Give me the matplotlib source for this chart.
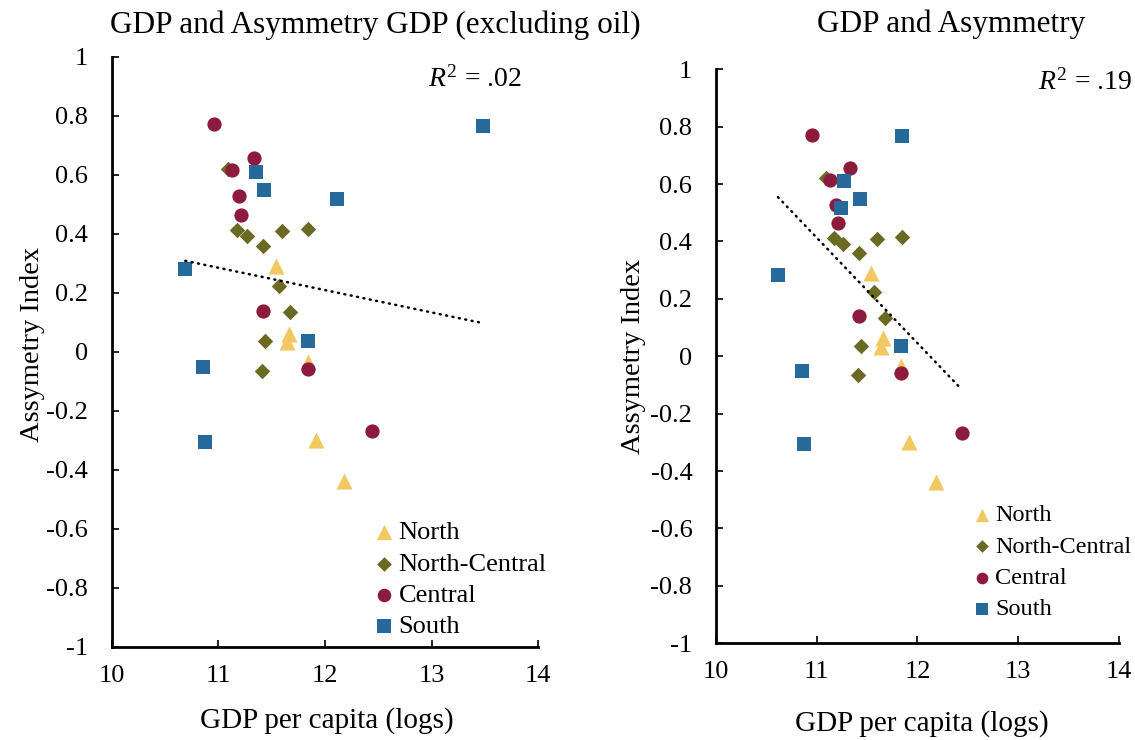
import numpy as np
import matplotlib
matplotlib.use('Agg')
import matplotlib.pyplot as plt

plt.rcParams['font.family'] = ['Liberation Serif', 'DejaVu Serif']
plt.rcParams['mathtext.fontset'] = 'custom'
plt.rcParams['mathtext.rm'] = 'Liberation Serif'
plt.rcParams['mathtext.it'] = 'Liberation Serif:italic'

# ---- data ----
regions = ['North', 'North-Central', 'Central', 'South']

north_x = [11.54, 11.66, 11.64, 11.84, 11.92, 12.18]
north_y = [0.29, 0.062, 0.033, -0.033, -0.30, -0.438]

ncentral_x = [11.09, 11.175, 11.265, 11.42, 11.60, 11.845, 11.57, 11.675, 11.44, 11.41]
ncentral_y = [0.621, 0.413, 0.392, 0.360, 0.409, 0.415, 0.223, 0.134, 0.036, -0.066]

central_x = [10.956, 11.33, 11.13, 11.19, 11.21, 11.42, 11.84, 12.44]
central_y = [0.771, 0.656, 0.615, 0.527, 0.463, 0.139, -0.058, -0.268]

# GDP excluding oil (left) vs total GDP (right) for the southern states
south_x_nooil = [13.48, 11.35, 11.43, 12.11, 10.69, 11.84, 10.855, 10.875]
south_x_total = [11.85, 11.27, 11.43, 11.24, 10.615, 11.84, 10.855, 10.875]
south_y = [0.766, 0.609, 0.547, 0.518, 0.282, 0.036, -0.050, -0.305]

titles = ['GDP and Asymmetry GDP (excluding oil)', 'GDP and Asymmetry']
xticks = [10, 11, 12, 13, 14]
yticks = [-1, -0.8, -0.6, -0.4, -0.2, 0, 0.2, 0.4, 0.6, 0.8, 1]
ytick_labels = ['-1', '-0.8', '-0.6', '-0.4', '-0.2', '0', '0.2', '0.4', '0.6', '0.8', '1']

colors = ['#F2C862', '#6B6A22', '#8C1B3D', '#26699B']
markers = ['^', 'D', 'o', 's']
sizes = [135, 62, 105, 110]

fig = plt.figure(figsize=(11.35, 7.4), dpi=100)
ax1 = fig.add_axes([0.0984, 0.1257, 0.3759, 0.7977])
ax2 = fig.add_axes([0.6308, 0.1307, 0.3551, 0.7757])

# axes, south x values, legend anchor x/y, marker scale, legend font, spacing
panels = [(ax1, south_x_nooil, 0.614, 0.214, 0.95, 19, 0.3),
          (ax2, south_x_total, 0.636, 0.242, 0.82, 17.5, 0.38)]

for ax, south_x, lx, ly, mscale, lfs, lsp in panels:
    xs = [north_x, ncentral_x, central_x, south_x]
    ys = [north_y, ncentral_y, central_y, south_y]
    for i in range(len(regions)):
        ax.scatter(xs[i], ys[i], marker=markers[i], s=sizes[i], color=colors[i],
                   linewidths=0, label=regions[i], zorder=3 + i)

    # linear trend over all points
    allx = np.concatenate([np.array(v) for v in xs])
    ally = np.concatenate([np.array(v) for v in ys])
    b, a = np.polyfit(allx, ally, 1)
    xx = np.array([allx.min(), allx.max()])
    ax.plot(xx, a + b * xx, color='black', lw=1.8, linestyle=(0, (0.4, 2.2)),
            dash_capstyle='round', zorder=10)

    ax.set_xlim(10, 14)
    ax.set_ylim(-1, 1)
    ax.set_xticks(xticks)
    ax.set_xticklabels([str(t) for t in xticks])
    ax.set_yticks(yticks)
    ax.set_yticklabels(ytick_labels)
    ax.tick_params(direction='in', length=5, width=1.2, labelsize=19, color='black')
    ax.tick_params(axis='y', pad=17)
    ax.tick_params(axis='x', pad=13)
    for side in ['top', 'right']:
        ax.spines[side].set_visible(False)
    for side in ['left', 'bottom']:
        ax.spines[side].set_linewidth(2.0)

    ax.legend(loc='upper left', bbox_to_anchor=(lx, ly), frameon=False, fontsize=lfs,
              handlelength=0.8, handletextpad=0.15, labelspacing=lsp, borderpad=0,
              borderaxespad=0, scatterpoints=1, markerscale=mscale)

ax1.set_xlabel('GDP per capita (logs)', fontsize=21, va='center')
ax1.xaxis.set_label_coords(0.505, -0.124)
ax2.set_xlabel('GDP per capita (logs)', fontsize=21, va='center')
ax2.xaxis.set_label_coords(0.511, -0.139)
ax1.set_ylabel('Assymetry Index', fontsize=20.5, va='center')
ax1.yaxis.set_label_coords(-0.186, 0.512)
ax2.set_ylabel('Assymetry Index', fontsize=20.5, va='center')
ax2.yaxis.set_label_coords(-0.205, 0.5)

fig.text(0.331, 0.9554, titles[0], fontsize=22.5, ha='center', va='baseline')
fig.text(0.8383, 0.9565, titles[1], fontsize=22.5, ha='center', va='baseline')
fig.text(0.46, 0.8829, r'$R^2$ = .02', fontsize=20, ha='right', va='baseline')
fig.text(0.9974, 0.8784, r'$R^2$ = .19', fontsize=20, ha='right', va='baseline')

fig.savefig('out.png', dpi=100)
